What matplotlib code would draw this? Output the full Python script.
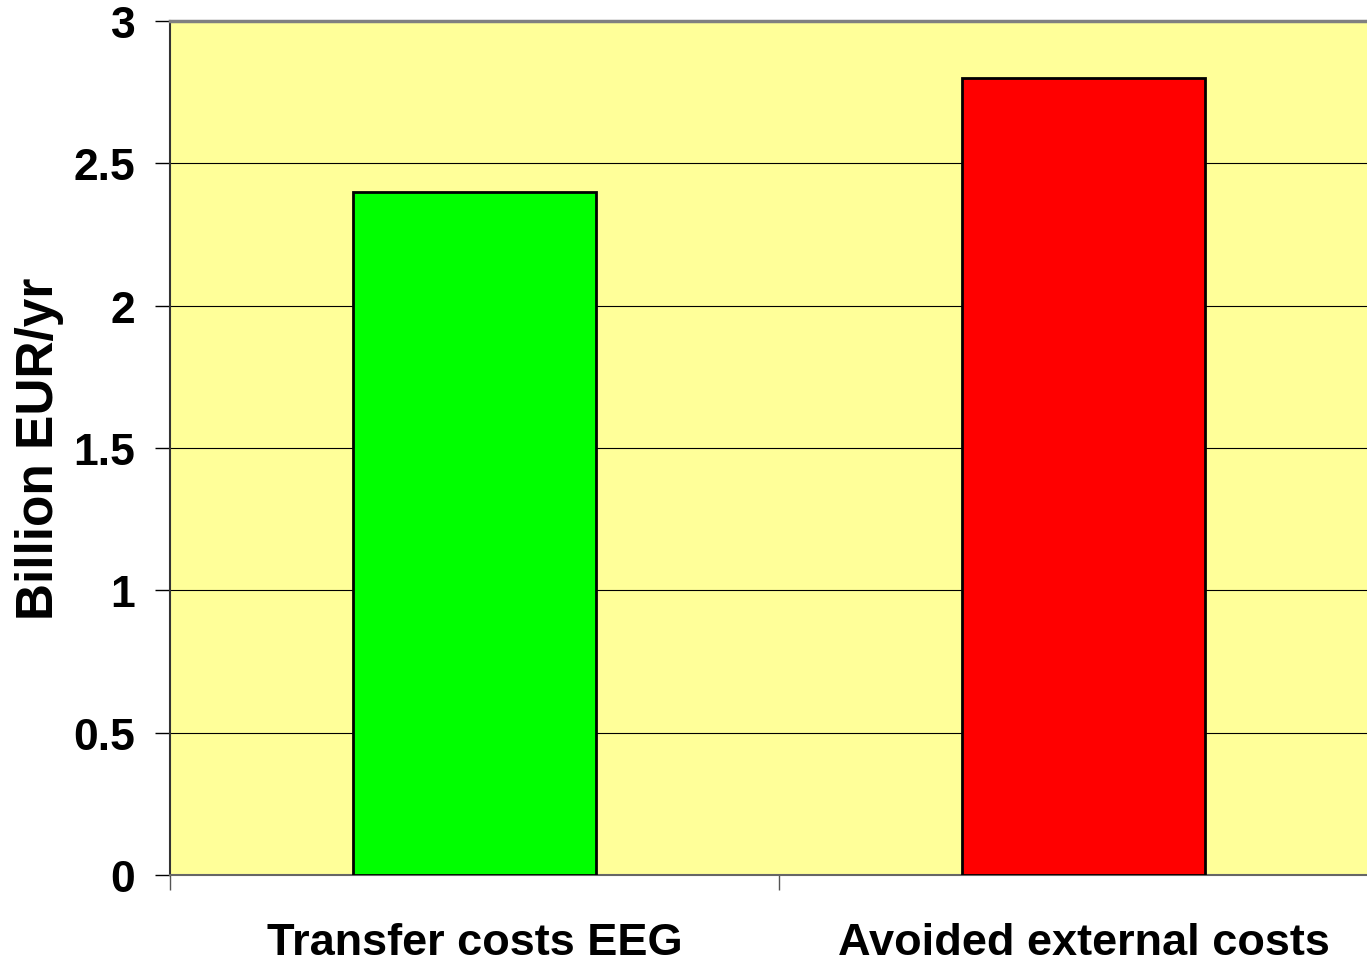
import matplotlib.pyplot as plt
import matplotlib.transforms as mtransforms

# Data
categories = ['Transfer costs EEG', 'Avoided external costs']
values = [2.4, 2.8]
bar_colors = ['#00ff00', '#ff0000']
yticks = [0, 0.5, 1, 1.5, 2, 2.5, 3]
ytick_labels = ['0', '0.5', '1', '1.5', '2', '2.5', '3']

plt.rcParams['font.family'] = ['Liberation Sans', 'DejaVu Sans']
plt.rcParams['font.weight'] = 'bold'

fig = plt.figure(figsize=(13.67, 9.62), dpi=100)
# plot area runs past the right edge of the picture, as in the original
ax = fig.add_axes([0.1244, 0.0894, 0.8910, 0.8877])
ax.set_facecolor('#ffff99')

x = list(range(len(categories)))
ax.bar(x, values, width=0.4, color=bar_colors, edgecolor='black', linewidth=2, zorder=3)

ax.set_xlim(-0.5, len(categories) - 0.5)
ax.set_ylim(0, 3)

ax.set_yticks(yticks)
ax.set_yticklabels(ytick_labels, fontsize=32, fontweight='bold')
ax.yaxis.grid(True, color='black', linewidth=0.8, zorder=1)
ax.tick_params(axis='y', length=11, width=1, pad=14, color='black')

# category boundaries get the tick marks, names sit between them
ax.set_xticks([-0.5, 0.5, 1.5])
ax.set_xticklabels([])
ax.tick_params(axis='x', length=11, width=1, color='#555555')

# category names, baseline near the bottom edge of the picture
trans = mtransforms.blended_transform_factory(ax.transData, fig.transFigure)
for xi, name in zip(x, categories):
    ax.text(xi, 0.007, name, transform=trans, ha='center', va='baseline',
            fontsize=32.5, fontweight='bold', clip_on=False)

ax.set_ylabel('Billion EUR/yr', fontsize=37, fontweight='bold', labelpad=7)

ax.spines['top'].set_color('#808080')
ax.spines['top'].set_linewidth(2.5)
ax.spines['left'].set_color('#333333')
ax.spines['left'].set_linewidth(1.5)
ax.spines['bottom'].set_color('#666666')
ax.spines['bottom'].set_linewidth(1.5)

plt.savefig('out.png', dpi=100)
